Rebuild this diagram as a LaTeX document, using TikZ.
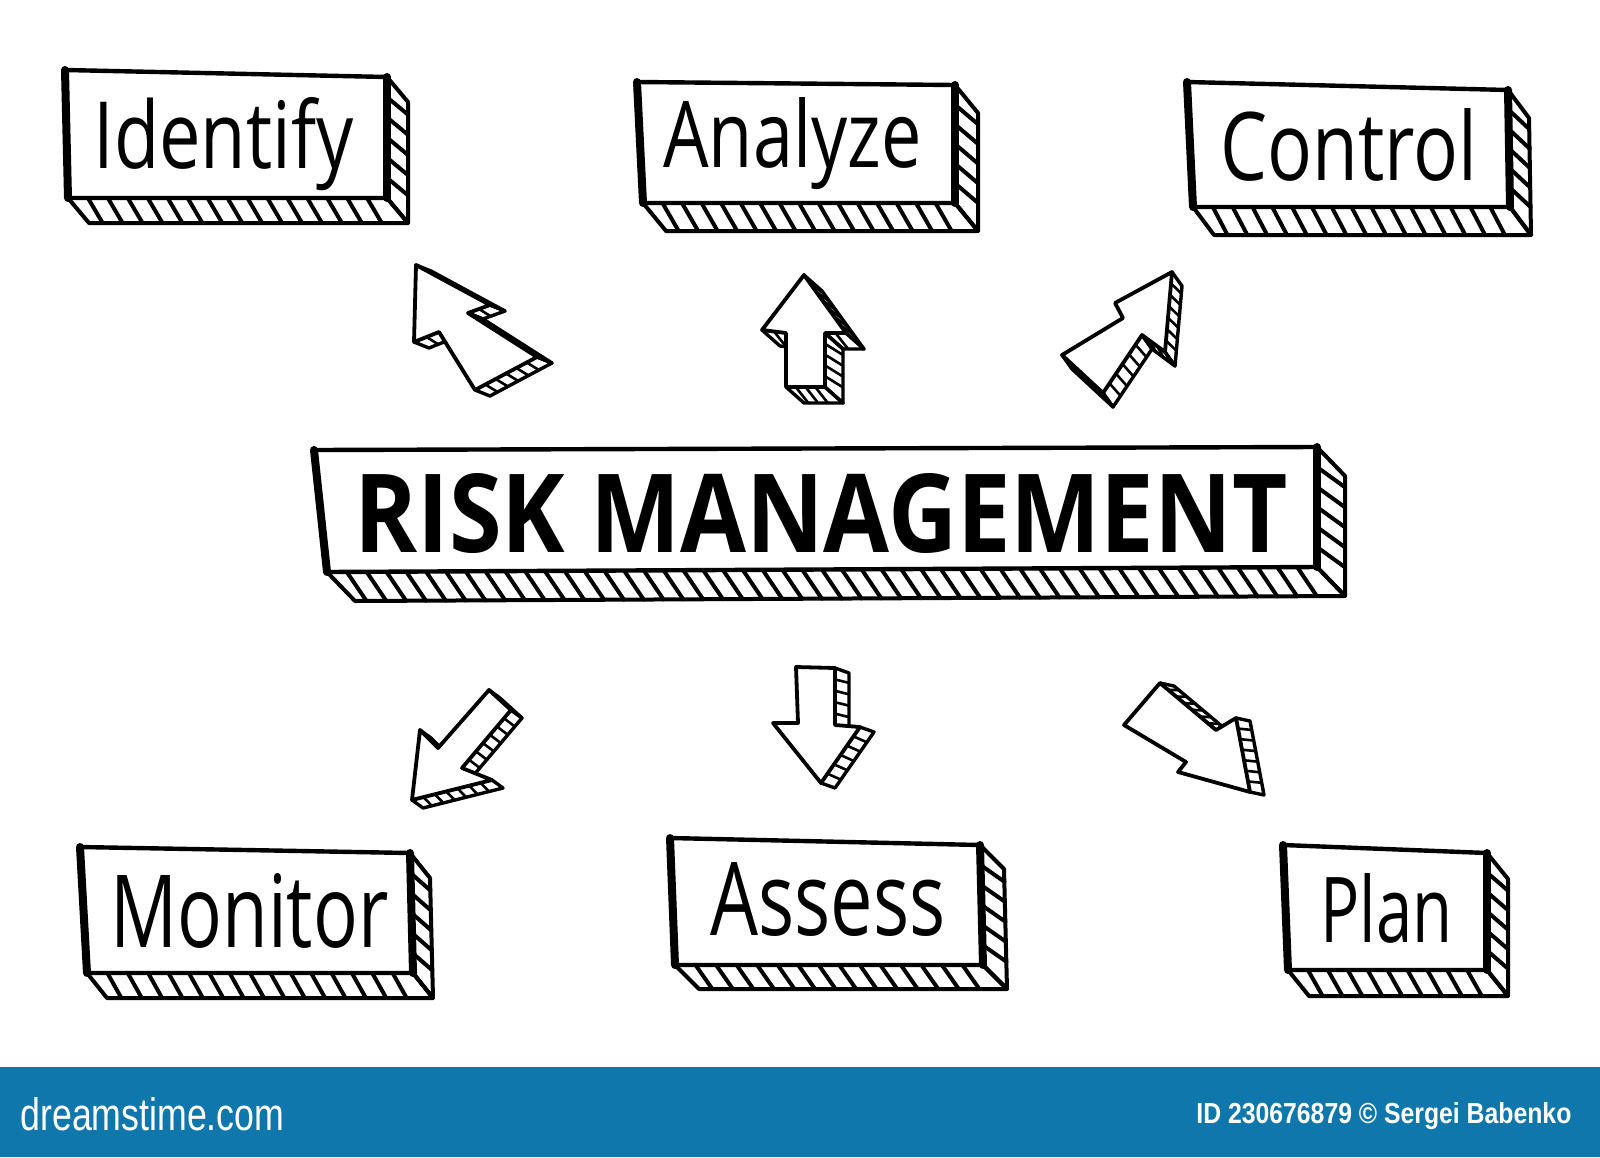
\documentclass[tikz,border=0pt]{standalone}
\usepackage{fontspec}
\setmainfont{Open Sans}
\newfontfamily\bannerfont{Liberation Sans}
\newlength\pxu
\setlength\pxu{0.5pt}
\definecolor{bannerblue}{HTML}{1077AD}
\tikzset{
  boxfront/.style={draw=black, fill=white, line width=2.2pt, line join=round},
  boxback/.style={draw=black, line width=2pt, line join=round, line cap=round},
  boxrung/.style={draw=black, line width=2pt, line cap=round},
  boxedge/.style={draw=black, line width=4pt, line cap=round},
  arrfront/.style={draw=black, fill=white, line width=1.9pt, line join=round},
  arrback/.style={draw=black, line width=1.7pt, line join=round, line cap=round},
  arrrung/.style={draw=black, line width=1.3pt, line cap=round},
  lbl/.style={inner sep=0pt, anchor=base west, text=black},
}
% extruded polygon: #1 dx, #2 dy, #3 rung spacing, #4 first point, #5 other points (clockwise), #6 style prefix
\newcommand\prism[6]{%
  \foreach \x/\y [count=\i, remember=\x as \px (initially 0), remember=\y as \py (initially 0)] in {#4,#5,#4} {%
    \ifnum\i>1\relax
      \pgfmathsetmacro\ex{\x-\px}%
      \pgfmathsetmacro\ey{\y-\py}%
      \pgfmathsetmacro\vis{(\ey/100)*#1-(\ex/100)*#2}%
      \ifdim\vis pt>0.001pt\relax
        \pgfmathsetmacro\len{10*veclen(\ex/10,\ey/10)}%
        \pgfmathsetmacro\ux{\ex/\len}%
        \pgfmathsetmacro\uy{\ey/\len}%
        \pgfmathsetmacro\pr{#1*\ux+#2*\uy}%
        \pgfmathsetmacro\rx{#1-0.3*\pr*\ux}%
        \pgfmathsetmacro\ry{#2-0.3*\pr*\uy}%
        \pgfmathtruncatemacro\nn{max(1,round(\len/#3))}%
        \pgfmathtruncatemacro\nm{\nn-1}%
        \ifnum\nm>0\relax
          \foreach \k in {1,...,\nm} {%
            \draw[#6rung] ({\px+\ex*(\k/\nn)},{\py+\ey*(\k/\nn)}) -- ++(\rx,\ry);
          }%
        \fi
        \draw[#6back] (\px,\py) -- ++(#1,#2) -- ++(\ex,\ey) -- (\x,\y);
      \fi
    \fi
  }%
  \draw[#6front] \foreach \x/\y in {#4} {(\x,\y)} \foreach \x/\y in {#5} {-- (\x,\y)} -- cycle;
}
% 3D box: #1 TL, #2 TR, #3 BR, #4 BL, #5 dx, #6 dy
\newcommand\threedbox[6]{%
  \prism{#5}{#6}{20}{#1}{#2,#3,#4}{box}%
  \foreach \ax/\ay in {#1}{\foreach \bx/\by in {#4}{\draw[boxedge] (\ax,\ay) -- (\bx,\by);}}%
  \foreach \ax/\ay in {#2}{\foreach \bx/\by in {#3}{\draw[boxedge] (\ax,\ay) -- (\bx,\by);}}%
}
\begin{document}
\begin{tikzpicture}[x=0.5pt,y=-0.5pt]
\fill[white] (0,0) rectangle (1600,1157);
\useasboundingbox (0,0) rectangle (1600,1157);

% boxes
\threedbox{65/70}{387/77}{387/198}{68/198}{21}{25}
\threedbox{637/82}{955/85}{955/203}{643/203}{23}{28}
\threedbox{1187/82}{1508/90}{1510/207}{1193/207}{21}{28}
\threedbox{314/450}{1317/447}{1317/567}{327/572}{28}{29}
\threedbox{80/847}{410/853}{413/973}{87/973}{20}{25}
\threedbox{670/838}{980/845}{983/965}{675/965}{24}{24}
\threedbox{1283/845}{1487/853}{1487/970}{1288/970}{21}{26}

% labels
\node[lbl] (identify) at (93,168) {\resizebox{260\pxu}{71\pxu}{Identify}};
\node[lbl] (analyze) at (663,167) {\resizebox{258\pxu}{70\pxu}{Analyze}};
\node[lbl] (control) at (1220,180) {\resizebox{257\pxu}{72\pxu}{Control}};
\node[lbl] (risk) at (354,552) {\resizebox{933\pxu}{79\pxu}{\bfseries RISK MANAGEMENT}};
\node[lbl] (monitor) at (110,947) {\resizebox{278\pxu}{74\pxu}{Monitor}};
\node[lbl] (assess) at (710,935) {\resizebox{235\pxu}{73\pxu}{Assess}};
\node[lbl] (plan) at (1320,942) {\resizebox{132\pxu}{69\pxu}{Plan}};

% arrows
\prism{15}{6}{11}{416/265}{490/305,468/313,537/357,475/390,439/332,414/342}{arr}
\prism{18}{16}{11}{804/275}{846/333,825/333,825/387,786/387,786/333,762/330}{arr}
\prism{10}{14}{11}{1172/272}{1165/352,1142/335,1103/393,1062/355,1123/318,1115/303}{arr}
\prism{11}{8}{11}{412/800}{420/730,438/748,489/690,511/710,462/768,492/780}{arr}
\prism{14}{5}{11}{796/667}{835/668,835/725,860/727,821/783,773/723,798/723}{arr}
\prism{14}{3}{11}{1160/683}{1216/730,1236/718,1250/792,1178/772,1186/762,1124/725}{arr}

% banner
\fill[bannerblue] (0,1067) rectangle (1600,1157);
\node[lbl, text=white] (logo) at (20,1130) {\bannerfont\resizebox{264\pxu}{33\pxu}{dreamstime.com}};
\node[lbl, text=white] (credit) at (1196,1123) {\bannerfont\bfseries\resizebox{375\pxu}{21\pxu}{ID 230676879 © Sergei Babenko}};
\end{tikzpicture}
\end{document}
